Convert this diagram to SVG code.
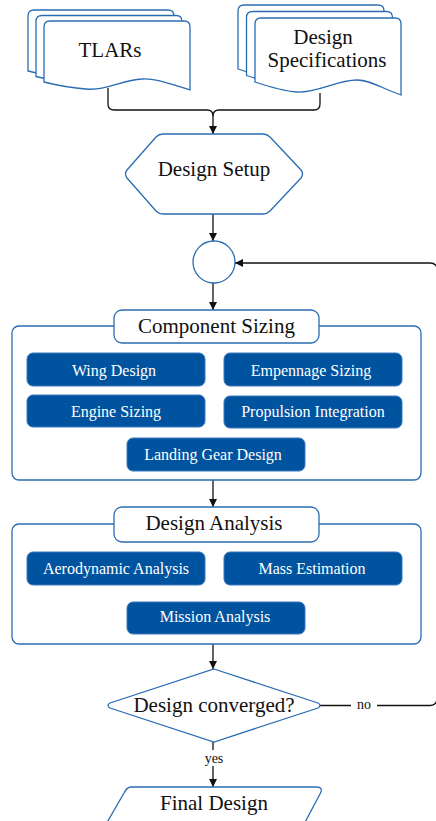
<svg xmlns="http://www.w3.org/2000/svg" width="436" height="821" viewBox="0 0 436 821">
  <style>
    .outline { fill: #ffffff; stroke: #2a6cb3; stroke-width: 1.3; }
    .task { fill: #00539f; stroke: #3a78bd; stroke-width: 1; }
    text { font-family: 'Liberation Serif', 'Times New Roman', serif; }
    .title { font-size: 21px; fill: #111111; text-anchor: middle; dominant-baseline: central; }
    .task-text { font-size: 16px; fill: #ffffff; text-anchor: middle; dominant-baseline: central; }
    .label { font-size: 14px; fill: #111111; text-anchor: middle; dominant-baseline: central; }
    .edge { fill: none; stroke: #111111; stroke-width: 1.3; }
  </style>
  <defs>
    <marker id="arrow" viewBox="0 0 10 10" refX="10" refY="5" markerWidth="8" markerHeight="11" markerUnits="userSpaceOnUse" orient="auto">
      <path d="M0,0 L10,5 L0,10 Z" fill="#111111"/>
    </marker>
    <path id="doc-a" d="M0,6 Q0,0 6,0 H140 Q146,0 146,6 V69 C126,63 111,57 98,58 C78,59 62,70 42,68 C27,67 12,64 0,61 Z"/>
    <path id="doc-b" d="M0,6 Q0,0 6,0 H140 Q146,0 146,6 V77 C126,70 115,62 102,62 C82,62 62,75 42,74 C27,73 12,68 0,64 Z"/>
  </defs>

  <!-- connectors -->
  <g id="connectors">
    <path class="edge" d="M108,88 V104 Q108,110 114,110 H207 Q213,110 213,116 V134" marker-end="url(#arrow)"/>
    <path class="edge" d="M320,93 V104 Q320,110 314,110 H219 Q213,110 213,116"/>
    <path class="edge" d="M213,214 V241" marker-end="url(#arrow)"/>
    <path class="edge" d="M213,283 V310" marker-end="url(#arrow)"/>
    <path class="edge" d="M213,480 V507" marker-end="url(#arrow)"/>
    <path class="edge" d="M213,644 V669" marker-end="url(#arrow)"/>
    <path class="edge" d="M213,742 V787" marker-end="url(#arrow)"/>
    <path class="edge" d="M320,705.5 H430 Q437,705.5 437,698 V270 Q437,263 430,263 H235" marker-end="url(#arrow)"/>
    <rect x="351" y="696" width="26" height="18" fill="#ffffff"/>
    <text class="label" x="364" y="704">no</text>
    <rect x="200" y="750" width="28" height="16" fill="#ffffff"/>
    <text class="label" x="214" y="758">yes</text>
  </g>

  <!-- input documents -->
  <g id="tlars">
    <use href="#doc-a" class="outline" transform="translate(28,10)"/>
    <use href="#doc-a" class="outline" transform="translate(36,15.5)"/>
    <use href="#doc-a" class="outline" transform="translate(44,21)"/>
    <text class="title" x="110" y="50">TLARs</text>
  </g>
  <g id="design-specifications">
    <use href="#doc-b" class="outline" transform="translate(238,5)"/>
    <use href="#doc-b" class="outline" transform="translate(246.5,11.5)"/>
    <use href="#doc-b" class="outline" transform="translate(255,18)"/>
    <text class="title" x="323" y="37">Design</text>
    <text class="title" x="327" y="60">Specifications</text>
  </g>

  <!-- setup -->
  <g id="design-setup">
    <path class="outline" d="M163,134 H263 Q267,134 270,137 L301,170 Q304,174 301,178 L270,211 Q267,214 263,214 H163 Q159,214 156,211 L127,178 Q124,174 127,170 L156,137 Q159,134 163,134 Z"/>
    <text class="title" x="214" y="169">Design Setup</text>
  </g>

  <!-- loop junction -->
  <g id="junction">
    <circle class="outline" cx="214" cy="262" r="21"/>
  </g>

  <!-- component sizing block -->
  <g id="component-sizing">
    <rect class="outline" x="12" y="326" width="409" height="154" rx="7"/>
    <rect class="outline" x="114" y="310" width="205" height="33" rx="8"/>
    <text class="title" x="216.5" y="326">Component Sizing</text>
  </g>
  <g id="wing-design">
    <rect class="task" x="27" y="353" width="178" height="33" rx="6"/>
    <text class="task-text" x="114" y="370">Wing Design</text>
  </g>
  <g id="empennage-sizing">
    <rect class="task" x="224" y="353" width="178" height="33" rx="6"/>
    <text class="task-text" x="311" y="370">Empennage Sizing</text>
  </g>
  <g id="engine-sizing">
    <rect class="task" x="27" y="395" width="178" height="32" rx="6"/>
    <text class="task-text" x="116" y="411">Engine Sizing</text>
  </g>
  <g id="propulsion-integration">
    <rect class="task" x="224" y="396" width="178" height="32" rx="6"/>
    <text class="task-text" x="313" y="411">Propulsion Integration</text>
  </g>
  <g id="landing-gear-design">
    <rect class="task" x="127" y="438" width="178" height="33" rx="6"/>
    <text class="task-text" x="213" y="454">Landing Gear Design</text>
  </g>

  <!-- design analysis block -->
  <g id="design-analysis">
    <rect class="outline" x="12" y="524" width="409" height="120" rx="7"/>
    <rect class="outline" x="114" y="507" width="205" height="35" rx="8"/>
    <text class="title" x="214" y="523">Design Analysis</text>
  </g>
  <g id="aerodynamic-analysis">
    <rect class="task" x="27" y="552" width="178" height="33" rx="6"/>
    <text class="task-text" x="116" y="568">Aerodynamic Analysis</text>
  </g>
  <g id="mass-estimation">
    <rect class="task" x="224" y="552" width="178" height="33" rx="6"/>
    <text class="task-text" x="312" y="568">Mass Estimation</text>
  </g>
  <g id="mission-analysis">
    <rect class="task" x="127" y="602" width="178" height="32" rx="6"/>
    <text class="task-text" x="215" y="616">Mission Analysis</text>
  </g>

  <!-- decision -->
  <g id="design-converged">
    <path class="outline" d="M214,669 L318,703 Q322,705.5 318,708 L214,742 L110,708 Q106,705.5 110,703 Z"/>
    <text class="title" x="214" y="705">Design converged?</text>
  </g>

  <!-- output -->
  <g id="final-design">
    <path class="outline" d="M131,787 H316 Q324,787 320,794 L303,826 H105 L124,793 Q127,787 131,787 Z"/>
    <text class="title" x="214" y="803">Final Design</text>
  </g>
</svg>
